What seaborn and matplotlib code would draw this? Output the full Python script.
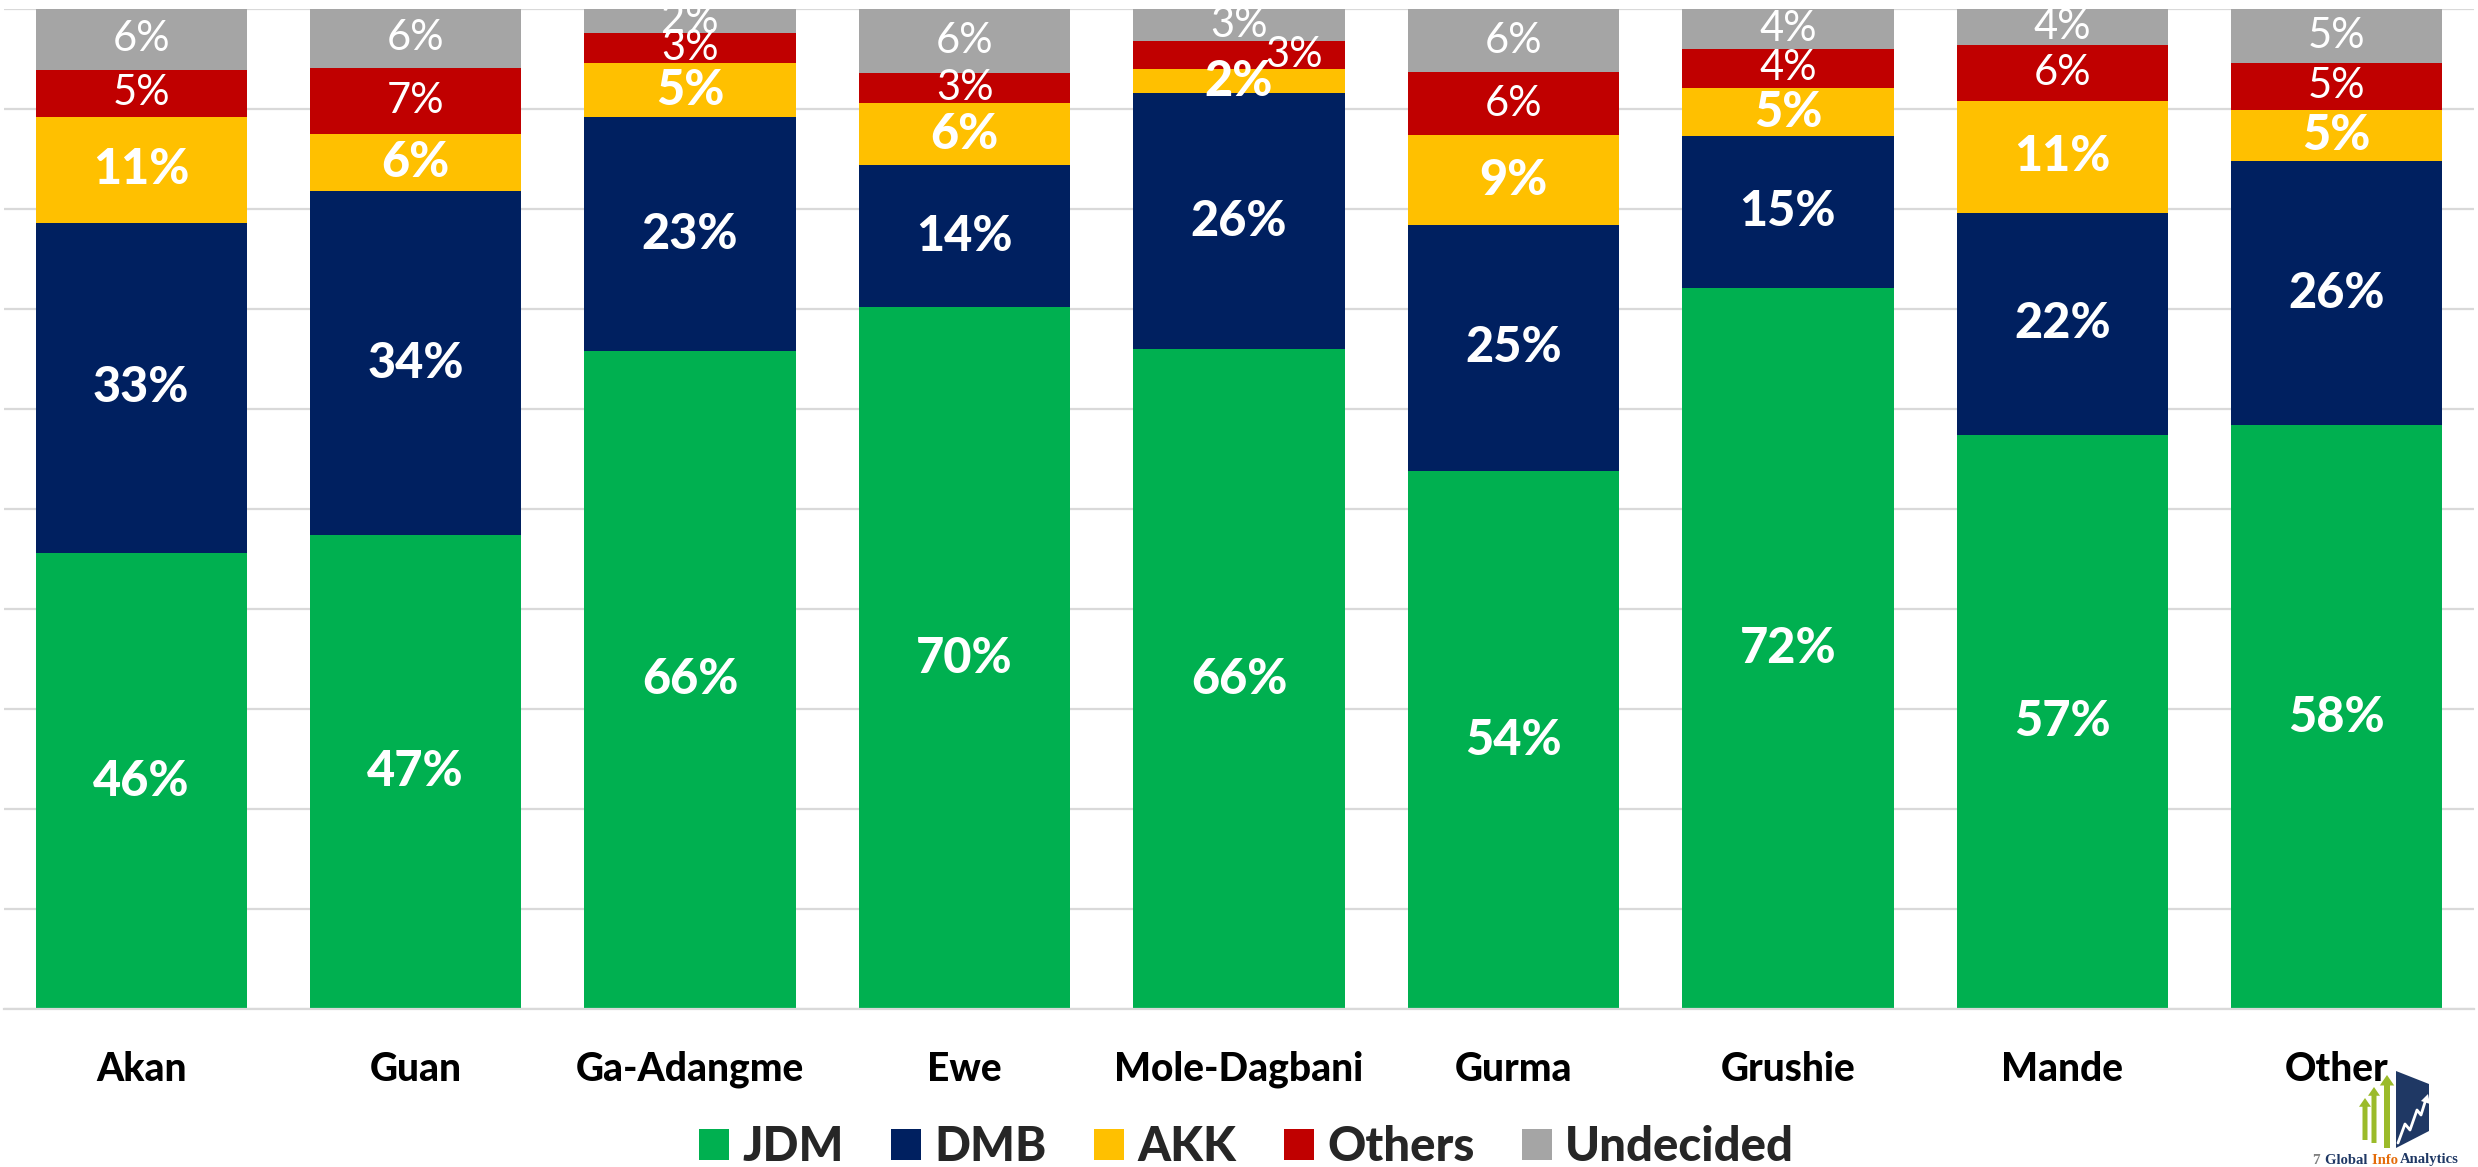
import numpy as np
import pandas as pd
import matplotlib
matplotlib.use("Agg")
import matplotlib.pyplot as plt
import seaborn as sns
from matplotlib.patches import Polygon

# Data (percent of each ethnic group)
groups = ["Akan", "Guan", "Ga-Adangme", "Ewe", "Mole-Dagbani",
          "Gurma", "Grushie", "Mande", "Other"]
series = ["JDM", "DMB", "AKK", "Others", "Undecided"]
jdm = [45.6, 47.4, 65.8, 70.2, 66.0, 53.8, 72.1, 57.4, 58.4]
dmb = [33.0, 34.4, 23.4, 14.2, 25.6, 24.6, 15.2, 22.2, 26.4]
akk = [10.6, 5.7, 5.4, 6.2, 2.4, 9.0, 4.8, 11.2, 5.1]
others = [4.7, 6.6, 3.0, 3.0, 2.8, 6.3, 3.9, 5.6, 4.7]
undecided = [6.1, 5.9, 2.4, 6.4, 3.2, 6.3, 4.0, 3.6, 5.4]

colors = ["#00B050", "#002060", "#FFC000", "#C00000", "#A5A5A5"]

W, H = 2478, 1167
sns.set_theme(style="white")
plt.rcParams["font.family"] = ["Lato", "DejaVu Sans"]
HEAVY = 900

df = pd.DataFrame({"JDM": jdm, "DMB": dmb, "AKK": akk,
                   "Others": others, "Undecided": undecided}, index=groups)
pct = df.div(df.sum(axis=1), axis=0) * 100
cum = pct.cumsum(axis=1)

fig = plt.figure(figsize=(W / 100, H / 100), dpi=100)
ax = fig.add_axes([4 / W, 1 - 1009 / H, 2470 / W, 1000 / H])

# stacked bars: draw cumulative tops, tallest first
for name, col in reversed(list(zip(series, colors))):
    sns.barplot(x=groups, y=cum[name].values, color=col, width=0.77,
                saturation=1, ax=ax, label=name, linewidth=0)

ax.set_xlim(-0.5, len(groups) - 0.5)
ax.set_ylim(0, 100)
ax.set_yticks(np.arange(0, 101, 10))
ax.set_yticklabels([])
ax.yaxis.grid(True, color="#D9D9D9", linewidth=1.6)
ax.set_axisbelow(True)
for s in ["top", "left", "right"]:
    ax.spines[s].set_visible(False)
ax.spines["bottom"].set_color("#D9D9D9")
ax.spines["bottom"].set_linewidth(1.6)
ax.tick_params(axis="x", length=0, pad=30, labelsize=28)
ax.tick_params(axis="y", length=0)
for t in ax.get_xticklabels():
    t.set_fontweight(HEAVY)
    t.set_color("black")
ax.set_xlabel("")
ax.set_ylabel("")

# segment labels
nudge = {("Mole-Dagbani", "Others"): 0.2}
for i, g in enumerate(groups):
    for name in series:
        top = cum.loc[g, name]
        val = pct.loc[g, name]
        mid = top - val / 2
        bold = name in ("JDM", "DMB", "AKK")
        ax.text(i + nudge.get((g, name), 0), mid, f"{df.loc[g, name]:.0f}%",
                ha="center", va="center", color="white",
                fontsize=35 if bold else 30,
                fontweight=HEAVY if bold else "normal", clip_on=True)

# legend in original order
handles, labels = ax.get_legend_handles_labels()
order = [labels.index(s) for s in series]
fig.legend([handles[k] for k in order], series, loc="center",
           bbox_to_anchor=(0.503, 1 - 1147 / H), ncol=5, frameon=False,
           prop={"family": ["Lato", "DejaVu Sans"], "weight": HEAVY, "size": 34},
           handlelength=0.64, handleheight=0.64, handletextpad=0.28,
           columnspacing=1.0)
if ax.get_legend() is not None:
    ax.get_legend().remove()


# small logo, bottom right
def fp(x, y):
    return (x / W, 1 - y / H)


def poly(pts, col):
    fig.patches.append(Polygon([fp(*p) for p in pts], closed=True,
                               transform=fig.transFigure, facecolor=col,
                               edgecolor="none"))


poly([(2396, 1071), (2429, 1084), (2429, 1131), (2396, 1148)], "#1F3864")
for xc, yt, yb, w in [(2365, 1098, 1140, 2.5), (2374, 1087, 1143, 2.5),
                      (2387, 1075, 1148, 3.0)]:
    poly([(xc - w, yb), (xc - w, yt + 3.5 * w), (xc - 2.4 * w, yt + 3.5 * w),
          (xc, yt), (xc + 2.4 * w, yt + 3.5 * w), (xc + w, yt + 3.5 * w),
          (xc + w, yb)], "#9BBB2A")
zz = [(2398, 1143), (2405, 1124), (2410, 1130), (2417, 1110), (2421, 1115),
      (2426, 1099)]
fig.lines.append(plt.Line2D([fp(*p)[0] for p in zz], [fp(*p)[1] for p in zz],
                            transform=fig.transFigure, color="white",
                            linewidth=2))
poly([(2428, 1094), (2421, 1101), (2430, 1104)], "white")
fig.text(2316 / W, 1 - 1160 / H, "7", color="#808080", fontsize=11,
         fontweight="bold", family="Liberation Serif", va="center", ha="center")
fig.text(2325 / W, 1 - 1160 / H, "Global ", color="#1F3864", fontsize=10.5,
         fontweight="bold", family="Liberation Serif", va="center", ha="left")
fig.text(2372 / W, 1 - 1160 / H, "Info ", color="#E46C0A", fontsize=10.5,
         fontweight="bold", family="Liberation Serif", va="center", ha="left")
fig.text(2400 / W, 1 - 1160 / H, "Analytics", color="#1F3864", fontsize=10.5,
         fontweight="bold", family="Liberation Serif", va="center", ha="left")

fig.savefig("out.png", dpi=100)
